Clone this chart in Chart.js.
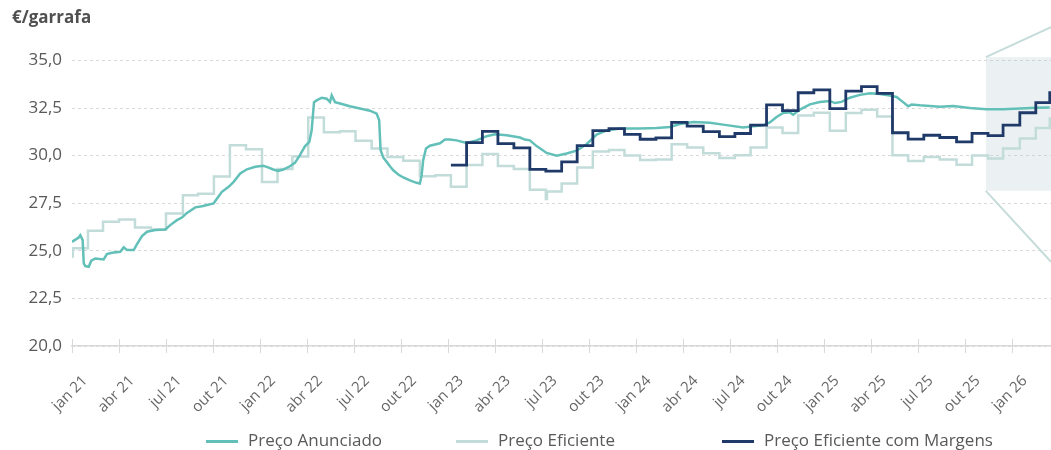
<!DOCTYPE html>
<html>
<head>
<meta charset="utf-8">
<script src="https://cdn.jsdelivr.net/npm/chart.js@4.4.1/dist/chart.umd.min.js"></script>
<style>
  html, body { margin: 0; padding: 0; background: #ffffff; }
  #wrap { position: relative; width: 1051px; height: 450px; overflow: hidden; }
  canvas { display: block; }
  .lg { position: absolute; top: 430px; font-family: 'Open Sans', sans-serif; font-size: 17px;
        color: #595959; line-height: 20px; white-space: nowrap; }
  .lg .sw { display: inline-block; width: 32px; height: 3px; vertical-align: middle; margin-right: 10px; }
</style>
</head>
<body>
<div id="wrap">
  <canvas id="c" width="1051" height="450"></canvas>
</div>
<script>
// ---------- DATA ----------
// x values are months since January 2021 (fractional)
const xTickLabels = ['jan 21','abr 21','jul 21','out 21','jan 22','abr 22','jul 22','out 22',
  'jan 23','abr 23','jul 23','out 23','jan 24','abr 24','jul 24','out 24','jan 25','abr 25',
  'jul 25','out 25','jan 26'];

const seriesNames = ['Preço Anunciado', 'Preço Eficiente', 'Preço Eficiente com Margens'];
const seriesColors = ['#62C0B8', '#C2DCDA', '#1F3A68'];

// Preço Anunciado
const anT = [0,0.43,0.53,0.68,0.75,0.85,1.07,1.23,1.49,2.02,2.23,2.55,3.08,3.30,3.51,3.94,4.15,4.47,4.79,5.32,
  5.96,6.27,6.70,7.02,7.34,7.87,8.30,9.04,9.26,9.57,10.00,10.32,10.74,11.17,11.70,12.21,12.43,12.85,13.17,13.49,
  13.91,14.23,14.55,14.87,15.15,15.30,15.45,15.62,15.94,16.26,16.47,16.58,16.79,17.11,17.74,18.38,19.02,19.45,19.61,19.70,
  19.87,20.09,20.30,20.51,20.83,21.15,21.57,22.00,22.21,22.32,22.42,22.60,22.85,23.49,23.81,24.13,24.55,25.19,25.83,26.47,
  27.00,27.75,28.60,28.91,29.23,29.66,30.30,30.94,31.58,32.21,32.85,33.49,34.13,34.98,36.25,37.32,38.17,38.81,39.66,40.72,
  41.79,42.85,43.49,44.13,44.55,44.98,45.40,45.83,46.04,46.47,47.11,47.74,48.38,48.70,49.13,49.66,50.30,50.94,51.57,52.21,
  52.64,53.06,53.38,53.60,54.13,55.40,56.25,57.32,58.38,59.44,60.51,61.57,62.42];
const anV = [25.47,25.70,25.82,25.56,24.34,24.20,24.16,24.48,24.60,24.55,24.83,24.90,24.95,25.18,25.04,25.04,25.35,25.77,26.00,26.09,
  26.12,26.35,26.61,26.75,26.99,27.28,27.34,27.49,27.75,28.10,28.36,28.62,29.06,29.28,29.41,29.46,29.41,29.27,29.20,29.27,
  29.44,29.62,30.02,30.49,30.72,31.33,32.81,32.90,33.04,32.99,32.81,33.16,32.81,32.74,32.59,32.47,32.36,32.20,31.85,30.30,
  29.90,29.67,29.44,29.23,29.01,28.85,28.70,28.57,28.53,28.97,29.76,30.37,30.52,30.65,30.85,30.84,30.80,30.66,30.80,31.02,
  31.12,31.07,30.95,30.84,30.80,30.50,30.14,29.99,30.11,30.26,30.60,31.10,31.32,31.42,31.42,31.45,31.50,31.66,31.77,31.72,
  31.60,31.48,31.54,31.59,31.74,32.03,32.24,32.27,32.15,32.42,32.69,32.81,32.87,32.76,32.82,33.04,33.19,33.27,33.23,33.16,
  33.08,32.81,32.59,32.68,32.64,32.57,32.60,32.50,32.43,32.43,32.48,32.51,32.52];

// Preço Eficiente (step changes)
const efT = [0,0.05,1.02,1.98,3.00,4.02,5.04,6.00,7.08,8.04,9.06,10.08,11.11,12.13,13.12,14.07,15.08,16.08,17.11,18.10,
  19.13,20.14,21.15,22.21,23.20,24.19,25.19,26.20,27.19,28.21,29.23,30.25,30.32,31.26,32.25,33.25,34.28,35.27,36.27,37.28,
  38.28,39.27,40.30,41.33,42.32,43.32,44.34,45.36,46.36,47.36,48.38,49.40,50.40,51.40,52.38,53.38,54.38,55.40,56.47,57.46,
  58.48,59.44,60.51,61.53,62.42,62.5];
const efV = [24.70,25.13,26.05,26.52,26.65,26.23,26.12,26.96,27.92,28.00,28.90,30.55,30.33,28.62,29.30,29.95,32.00,31.23,31.28,30.78,
  30.37,29.92,29.73,28.92,28.97,28.36,29.50,30.08,29.45,29.30,28.20,27.72,28.12,28.53,29.38,30.22,30.30,30.01,29.77,29.80,
  30.60,30.42,30.12,29.87,30.02,30.42,31.48,31.19,32.10,32.25,31.30,32.24,32.41,32.06,30.02,29.72,29.93,29.79,29.52,30.00,
  29.85,30.37,30.90,31.45,31.95,31.95];

// Preço Eficiente com Margens (step changes)
const mgT = [24.19,25.19,26.20,27.19,28.21,29.23,30.25,31.26,32.25,33.25,34.28,35.27,36.27,37.28,38.28,39.27,40.30,41.33,42.32,43.32,
  44.34,45.36,46.36,47.36,48.38,49.40,50.40,51.40,52.38,53.38,54.38,55.40,56.47,57.46,58.48,59.44,60.51,61.53,62.42,62.5];
const mgV = [29.50,30.68,31.27,30.63,30.41,29.28,29.18,29.67,30.52,31.31,31.42,31.12,30.86,30.93,31.75,31.55,31.26,31.00,31.16,31.60,
  32.66,32.36,33.30,33.45,32.47,33.39,33.62,33.27,31.20,30.87,31.07,30.95,30.72,31.17,31.05,31.60,32.25,32.78,33.30,33.30];

// zoom highlight (data units)
const zoomFrom = 58.34, zoomLow = 28.15, zoomHigh = 35.17, zoomTopEnd = 36.75, zoomBottomEnd = 24.42;

// ---------- CHART ----------
const pts = (t, v) => t.map((x, i) => ({ x: x, y: v[i] }));
const FONT = "'Open Sans', sans-serif";

const decor = {
  id: 'decor',
  beforeDatasetsDraw(chart) {
    const { ctx, chartArea: a, scales: { x, y } } = chart;
    const l = x.getPixelForValue(zoomFrom), t = y.getPixelForValue(zoomHigh), b = y.getPixelForValue(zoomLow);
    ctx.save();
    ctx.fillStyle = 'rgba(190,210,213,0.30)';
    ctx.fillRect(l, t, a.right - l, b - t);
    ctx.restore();
  },
  afterDraw(chart) {
    const { ctx, chartArea: a, scales: { x, y } } = chart;
    const l = x.getPixelForValue(zoomFrom), t = y.getPixelForValue(zoomHigh), b = y.getPixelForValue(zoomLow);
    ctx.save();
    ctx.strokeStyle = '#C5DCDA';
    ctx.lineWidth = 2;
    ctx.beginPath();
    ctx.moveTo(l, t); ctx.lineTo(a.right, y.getPixelForValue(zoomTopEnd));
    ctx.moveTo(l, b); ctx.lineTo(a.right, y.getPixelForValue(zoomBottomEnd));
    ctx.stroke();
    ctx.strokeStyle = '#D9D9D9';
    ctx.lineWidth = 1;
    ctx.beginPath();
    x.ticks.forEach(tk => {
      const px = Math.round(x.getPixelForValue(tk.value)) + 0.5;
      ctx.moveTo(px, a.bottom - 7); ctx.lineTo(px, a.bottom + 7);
    });
    ctx.stroke();
    ctx.restore();
  }
};

new Chart(document.getElementById('c'), {
  type: 'line',
  data: {
    datasets: [
      { label: seriesNames[0], data: pts(anT, anV), borderColor: seriesColors[0], backgroundColor: seriesColors[0],
        borderWidth: 2.5, pointRadius: 0, tension: 0, order: 1 },
      { label: seriesNames[1], data: pts(efT, efV), borderColor: seriesColors[1], backgroundColor: seriesColors[1],
        borderWidth: 2.5, pointRadius: 0, stepped: true, order: 2 },
      { label: seriesNames[2], data: pts(mgT, mgV), borderColor: seriesColors[2], backgroundColor: seriesColors[2],
        borderWidth: 2.8, pointRadius: 0, stepped: true, order: 0 }
    ]
  },
  options: {
    responsive: false,
    animation: false,
    devicePixelRatio: 1,
    layout: { padding: { left: 12, right: 0, top: 0, bottom: 0 } },
    plugins: {
      legend: { display: false },
      tooltip: { enabled: false },
      title: {
        display: true, text: '€/garrafa', align: 'start', color: '#505050',
        font: { family: FONT, size: 17, weight: 'bold' },
        padding: { top: 8, bottom: 32 }
      }
    },
    scales: {
      x: {
        type: 'linear', min: 0, max: 62.5,
        afterFit: s => { s.height = 104; },
        afterBuildTicks: s => { s.ticks = s.ticks.filter(t => Math.abs(t.value % 3) < 1e-6); },
        grid: { display: false },
        border: { display: true, color: '#D9D9D9', width: 1.5 },
        ticks: {
          stepSize: 3, autoSkip: false, maxRotation: 45, minRotation: 45, padding: 18, labelOffset: 13,
          color: '#666666', font: { family: FONT, size: 15 },
          callback: v => xTickLabels[Math.round(v / 3)] || ''
        }
      },
      y: {
        min: 20, max: 35,
        afterFit: s => { s.width = 60; },
        grid: { color: '#D9D9D9', lineWidth: 1, drawTicks: false },
        border: { display: false, dash: [3, 3] },
        ticks: {
          stepSize: 2.5, padding: 10, color: '#595959', font: { family: FONT, size: 17 },
          callback: v => v.toFixed(1).replace('.', ',')
        }
      }
    }
  },
  plugins: [decor]
});

// HTML legend
const legendLeft = [206, 456, 722];
const wrap = document.getElementById('wrap');
seriesNames.forEach((name, i) => {
  const d = document.createElement('div');
  d.className = 'lg';
  d.style.left = legendLeft[i] + 'px';
  const sw = document.createElement('span');
  sw.className = 'sw';
  sw.style.background = seriesColors[i];
  d.appendChild(sw);
  d.appendChild(document.createTextNode(name));
  wrap.appendChild(d);
});
</script>
</body>
</html>
